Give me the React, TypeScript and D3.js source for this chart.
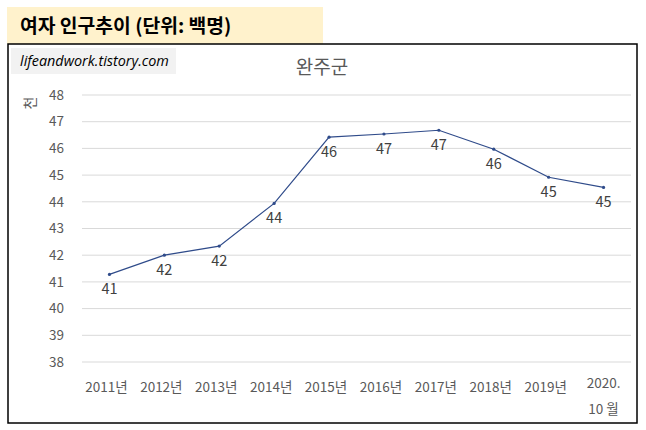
import React from "react";
import * as d3 from "d3";

const categories = ["2011년", "2012년", "2013년", "2014년", "2015년", "2016년", "2017년", "2018년", "2019년", "2020.\n10 월"];
const values = [41.28, 42.0, 42.34, 43.94, 46.42, 46.54, 46.68, 45.97, 44.92, 44.54];
const yTicks = [38, 39, 40, 41, 42, 43, 44, 45, 46, 47, 48];
const headerText = "여자 인구추이 (단위: 백명)";
const chartTitle = "완주군";
const watermark = "lifeandwork.tistory.com";
const yAxisTitle = "천";

const W = 646;
const H = 430;
const plot = { left: 82, right: 631, top: 95, bottom: 362 };
const FONT = "'Noto Sans CJK KR', 'Noto Sans', sans-serif";

export default function App() {
  const x = d3
    .scaleBand<string>()
    .domain(categories)
    .range([plot.left, plot.right])
    .padding(0);
  const y = d3.scaleLinear().domain([38, 48]).range([plot.bottom, plot.top]);
  const cx = (c: string) => (x(c) as number) + x.bandwidth() / 2;

  const line = d3
    .line<number>()
    .x((_, i) => cx(categories[i]))
    .y((d) => y(d));

  return (
    <svg
      width={W}
      height={H}
      style={{ position: "absolute", left: 0, top: 0, background: "#fff" }}
      fontFamily={FONT}
    >
      {/* header */}
      <rect x={7} y={7} width={316} height={37} fill="#FFF2CC" />
      <text x={20} y={32.5} fontSize={19.3} fontWeight="bold" fill="#000">
        {headerText}
      </text>

      {/* chart border */}
      <rect x={8} y={44} width={629} height={379} fill="#fff" stroke="#000" strokeWidth={1.5} />

      {/* watermark */}
      <rect x={11} y={48} width={165} height={26} fill="#F2F2F2" />
      <text x={20} y={66} fontSize={14.4} fontStyle="italic" fill="#000" fontFamily="'Open Sans', sans-serif">
        {watermark}
      </text>

      {/* title */}
      <text x={322} y={74} fontSize={19} textAnchor="middle" fill="#595959">
        {chartTitle}
      </text>

      {/* gridlines */}
      {yTicks.map((t) => (
        <line key={t} x1={plot.left} x2={plot.right} y1={y(t)} y2={y(t)} stroke="#D9D9D9" strokeWidth={1} />
      ))}

      {/* y tick labels */}
      {yTicks.map((t) => (
        <text key={"l" + t} x={64} y={y(t)} dy="0.35em" fontSize={13.5} textAnchor="end" fill="#595959">
          {t}
        </text>
      ))}

      {/* y axis title */}
      <text
        transform={`translate(30,103) rotate(-90)`}
        fontSize={14}
        textAnchor="middle"
        dy="0.35em"
        fill="#595959"
      >
        {yAxisTitle}
      </text>

      {/* x labels */}
      {categories.map((c) => {
        const lines = c.split("\n");
        if (lines.length === 1) {
          return (
            <text key={c} x={cx(c) - 3} y={387} dy="0.35em" fontSize={13.5} textAnchor="middle" fill="#595959">
              {c}
            </text>
          );
        }
        return (
          <text key={c} x={cx(c)} fontSize={13.5} textAnchor="middle" fill="#595959">
            {lines.map((l, i) => (
              <tspan key={i} x={cx(c)} y={383 + i * 26} dy="0.35em">
                {l}
              </tspan>
            ))}
          </text>
        );
      })}

      {/* line */}
      <path d={line(values) || ""} fill="none" stroke="#2F4B8A" strokeWidth={1.2} />
      {values.map((v, i) => (
        <circle key={i} cx={cx(categories[i])} cy={y(v)} r={1.6} fill="#2F4B8A" />
      ))}

      {/* data labels */}
      {values.map((v, i) => (
        <text
          key={"d" + i}
          x={cx(categories[i])}
          y={y(v) + 15}
          dy="0.35em"
          fontSize={14.5}
          textAnchor="middle"
          fill="#404040"
        >
          {d3.format(".0f")(v)}
        </text>
      ))}
    </svg>
  );
}
